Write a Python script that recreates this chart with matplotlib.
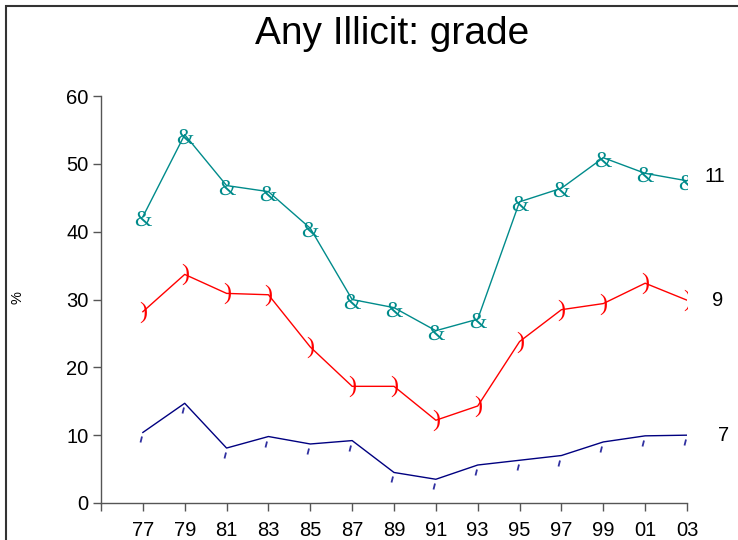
import matplotlib
matplotlib.use("Agg")
import matplotlib.pyplot as plt
from matplotlib.path import Path
from matplotlib.patches import Rectangle
from matplotlib.textpath import TextPath
from matplotlib.font_manager import FontProperties

plt.rcParams['font.family'] = ['Liberation Sans', 'DejaVu Sans']

# data
years = ["77", "79", "81", "83", "85", "87", "89", "91", "93", "95", "97", "99", "01", "03"]
grade11 = [42.2, 54.3, 46.8, 45.9, 40.5, 30.0, 28.8, 25.4, 27.1, 44.4, 46.4, 50.9, 48.6, 47.5]
grade9 = [28.2, 33.7, 30.9, 30.7, 23.0, 17.2, 17.2, 12.2, 14.3, 23.8, 28.5, 29.4, 32.4, 29.9]
grade7 = [10.4, 14.7, 8.1, 9.8, 8.7, 9.2, 4.5, 3.5, 5.6, 6.3, 7.0, 9.0, 9.9, 10.0]
series_names = ["11", "9", "7"]
label_x = [13.67, 13.72, 13.87]
label_y = [48.2, 29.9, 10.0]

x = list(range(len(years)))


def glyph_marker(ch, dy=0.0):
    # centred path of a serif glyph, to use as a marker
    tp = TextPath((0, 0), ch, size=10, prop=FontProperties(family='Liberation Serif'))
    v = tp.vertices.copy()
    cx = (v[:, 0].min() + v[:, 0].max()) / 2
    cy = (v[:, 1].min() + v[:, 1].max()) / 2
    v[:, 0] -= cx
    v[:, 1] -= cy + dy
    return Path(v, tp.codes)


fig = plt.figure(figsize=(7.38, 5.40), dpi=100)
ax = fig.add_axes([101/738, 37/540, 586/738, 407/540])

# small slanted tick below the point, used for grade 7
tick_mark = Path([(-0.3, -1.0), (-0.15, -0.4)], [Path.MOVETO, Path.LINETO])

ax.plot(x, grade11, color='darkcyan', lw=1, marker=glyph_marker('&', 0.5), ms=12.5,
        mew=0, mfc='darkcyan', mec='darkcyan')
ax.plot(x, grade9, color='red', lw=1, marker=glyph_marker(')'), ms=15.5,
        mew=0, mfc='red', mec='red')
ax.plot(x, grade7, color='navy', lw=1, marker=tick_mark, ms=14.4, mew=1.3,
        mfc='none', mec='#3030a0')

for name, lx, ly in zip(series_names, label_x, label_y):
    ax.text(lx, ly, name, ha='center', va='center', fontsize=14.5)

ax.set_xlim(-1, 13)
ax.set_ylim(0, 60)
ax.set_xticks(range(-1, len(years)))
ax.set_xticklabels([''] + years)
ax.set_yticks(range(0, 61, 10))

for s in ['top', 'right']:
    ax.spines[s].set_visible(False)
for s in ['left', 'bottom']:
    ax.spines[s].set_color('#555555')
    ax.spines[s].set_linewidth(1)
ax.tick_params(axis='both', length=6, width=1, color='#555555', labelsize=14.5, pad=3)
ax.tick_params(axis='x', pad=7)

fig.text(18/738, 1 - 298/540, '%', rotation=90, ha='center', va='center', fontsize=10.5)
fig.text(392/738, 1 - 44/540, 'Any Illicit: grade', ha='center', va='baseline', fontsize=28)

# frame around the whole picture (cut off at right and bottom)
fig.patches.append(Rectangle((6/738, -0.1), 1.2, 0.1 + 534/540, transform=fig.transFigure,
                             fill=False, lw=1.5, edgecolor='#333333'))

fig.savefig("out.png", dpi=100)
